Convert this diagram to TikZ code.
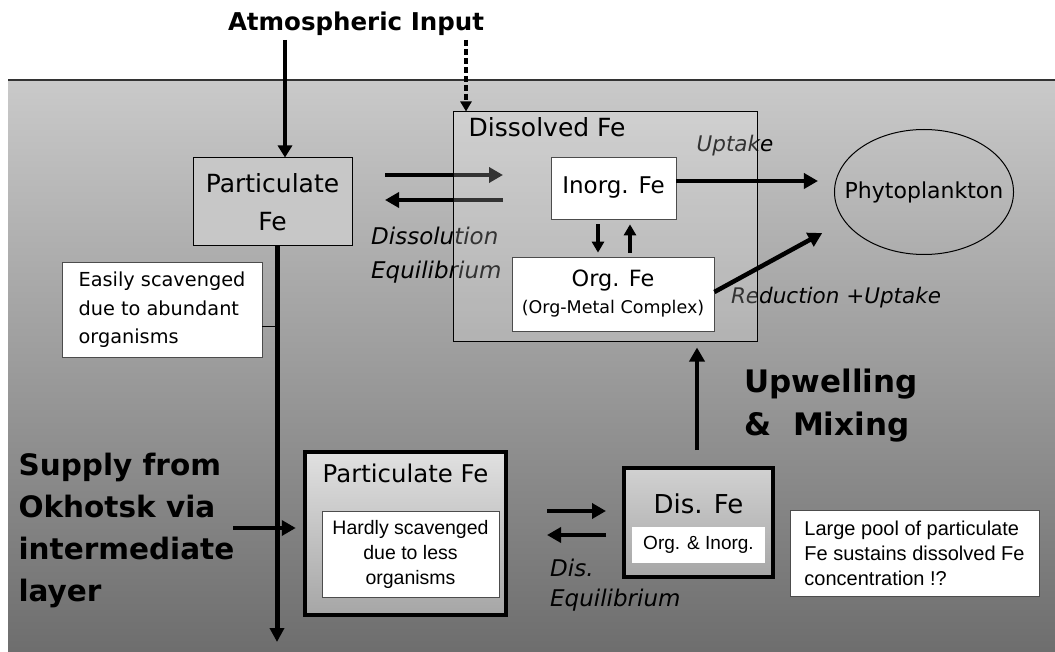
\documentclass[tikz,border=0pt]{standalone}
\usepackage{fontspec}
\setmainfont{DejaVu Sans}
\newfontfamily\arialfont{Liberation Sans}
\usepackage{tikz}
\usetikzlibrary{positioning,shapes.geometric,arrows.meta,calc}

\definecolor{seaTop}{gray}{0.79}
\definecolor{seaBottom}{gray}{0.43}
\newcommand{\fs}[2]{\fontsize{#1}{#2}\selectfont}

\tikzset{
  reservoir/.style={draw, line width=1pt, fill=black!22, inner sep=0pt, align=center},
  note/.style={draw=black!70, line width=0.7pt, fill=white, inner sep=0pt},
  heavy/.style={draw, line width=4.5pt, inner sep=0pt},
  flux/.style={line width=4.5pt, -{Triangle[length=14pt,width=15pt]}},
  smallflux/.style={line width=4pt, -{Triangle[length=11pt,width=12pt]}},
  proc/.style={font=\itshape\fs{21.5}{26}, text=black, inner sep=0pt},
}

\begin{document}
\begin{tikzpicture}[x=1pt,y=-1pt]
\useasboundingbox (0,0) rectangle (1055,652);

% sea panel
\fill[top color=seaTop, bottom color=seaBottom] (8,80) rectangle (1055,652);
\draw[line width=2pt, black!80] (8,80) -- (1055,80);

% surface layer
\node[reservoir, minimum width=159pt, minimum height=88pt, font=\fs{25}{38}] (partTop) at (272.5,202) {Particulate\\Fe};
\node[note, minimum width=200pt, minimum height=95pt, align=left, font=\fs{19.3}{28.5}] (easy) at (162,310) {Easily scavenged\\due to abundant\\organisms};

\node[proc, anchor=west, align=left, font=\itshape\fs{23}{34}] (dissLbl) at (371,255) {Dissolution\\Equilibrium};
\node[proc] (uptakeLbl) at (735,146) {Uptake};
\node[proc] (reduceLbl) at (836,298) {Reduction +Uptake};

\coordinate (dissL) at (385,175);
\coordinate (dissR) at (503,175);
\draw[flux] (dissL) -- (dissR);
\draw[flux] ([yshift=-25pt]dissR) -- ([yshift=-25pt]dissL);

\node[draw, line width=1pt, fill=white, fill opacity=0.2, minimum width=304pt, minimum height=230pt] (dissolved) at (605,227) {};
\node[anchor=north west, inner sep=0pt, font=\fs{25}{28}] (dissolvedLbl) at ([shift={(16,6)}]dissolved.north west) {Dissolved Fe};
\node[note, minimum width=125pt, minimum height=62pt, font=\fs{23}{28}] (inorg) at (613.5,188) {Inorg. Fe};
\node[note, minimum width=202pt, minimum height=74pt, align=center, font=\fs{22.4}{29}] (org) at (613,294) {Org. Fe\\[-2pt]{\fs{17.5}{20}(Org-Metal Complex)}};

\node[ellipse, draw, line width=1pt, minimum width=178pt, minimum height=125pt, inner xsep=-16pt, inner ysep=0pt, font=\fs{22}{26}] (phyto) at (924,192) {Phytoplankton};

% atmosphere
\node[font=\bfseries\fs{24.5}{28}] (atmos) at (356,24) {Atmospheric Input};
\coordinate (atmSolid) at (285,40);
\coordinate (atmDust) at (466,40);
\draw[line width=4pt, -{Triangle[length=12pt,width=14pt]}] (atmSolid) -- (atmSolid |- partTop.north);
\draw[line width=3.5pt, dash pattern=on 6pt off 3pt, -{Triangle[length=10pt,width=11pt]}] (atmDust) -- (atmDust |- dissolved.north);

% sinking
\coordinate (deep) at (277,642);
\draw[line width=5pt, -{Triangle[length=14pt,width=14pt]}] (deep |- partTop.south) -- (deep);
\coordinate (tick) at (277,327);
\draw[line width=1pt] (tick -| easy.east) -- (tick);

% exchange inside dissolved pool
\draw[smallflux, shorten <=5pt, shorten >=4pt] ([xshift=-15.5pt]inorg.south) -- ([xshift=-15.5pt]inorg.south |- org.north);
\draw[smallflux, shorten <=4pt, shorten >=5pt] ([xshift=16.5pt]inorg.south |- org.north) -- ([xshift=16.5pt]inorg.south);
\draw[flux, shorten >=16pt] ([yshift=7pt]inorg.east) -- ([yshift=7pt]inorg.east -| phyto.west);
\draw[flux, shorten >=25pt] ([yshift=2pt]org.east) -- (phyto.200);

% intermediate layer
\node[anchor=west, align=left, font=\bfseries\fs{29.5}{42}] (supply) at (15,530) {Supply from\\Okhotsk via\\intermediate\\layer};
\node[anchor=west, align=left, font=\bfseries\fs{31}{43}] (upwell) at (741,406) {Upwelling\\\&\ \ Mixing};

\node[heavy, top color=black!12, bottom color=black!35, minimum width=201pt, minimum height=163pt] (partBot) at (405.5,533.5) {};
\node[below=14pt of partBot.north, inner sep=0pt, font=\fs{24.4}{28}] (partBotLbl) {Particulate Fe};
\node[note, minimum width=177pt, minimum height=86pt, align=center, font=\arialfont\fs{19.5}{25}] (hardly) at (410.5,554) {Hardly scavenged\\due to less\\organisms};

\node[heavy, top color=black!18, bottom color=black!35, minimum width=149pt, minimum height=109pt] (disFe) at (698.5,522.5) {};
\node[below=28pt of disFe.north, inner sep=0pt, font=\fs{26}{30}] (disFeLbl) {Dis. Fe};
\node[fill=white, inner sep=0pt, minimum width=133pt, minimum height=36pt, font=\arialfont\fs{19}{22}] (orgInorg) at (698.5,545) {Org. \& Inorg.};

\node[note, minimum width=249pt, minimum height=86pt, align=left, font=\arialfont\fs{20}{25}] (poolNote) at (914.5,553) {Large pool of particulate\\Fe sustains dissolved Fe\\concentration !?};

\node[proc, anchor=west, align=left, font=\itshape\fs{23}{30}] (disLbl) at (550,585) {Dis.\\Equilibrium};

\coordinate (supplyOut) at (233,528);
\draw[flux, shorten >=7pt] (supplyOut) -- (supplyOut -| partBot.west);
\coordinate (disL) at (547,511);
\coordinate (disR) at (606,511);
\draw[flux] (disL) -- (disR);
\draw[flux] ([yshift=-24pt]disR) -- ([yshift=-24pt]disL);
\coordinate (upStart) at (697,450);
\draw[flux, shorten >=5pt] (upStart) -- (upStart |- dissolved.south);
\end{tikzpicture}
\end{document}
